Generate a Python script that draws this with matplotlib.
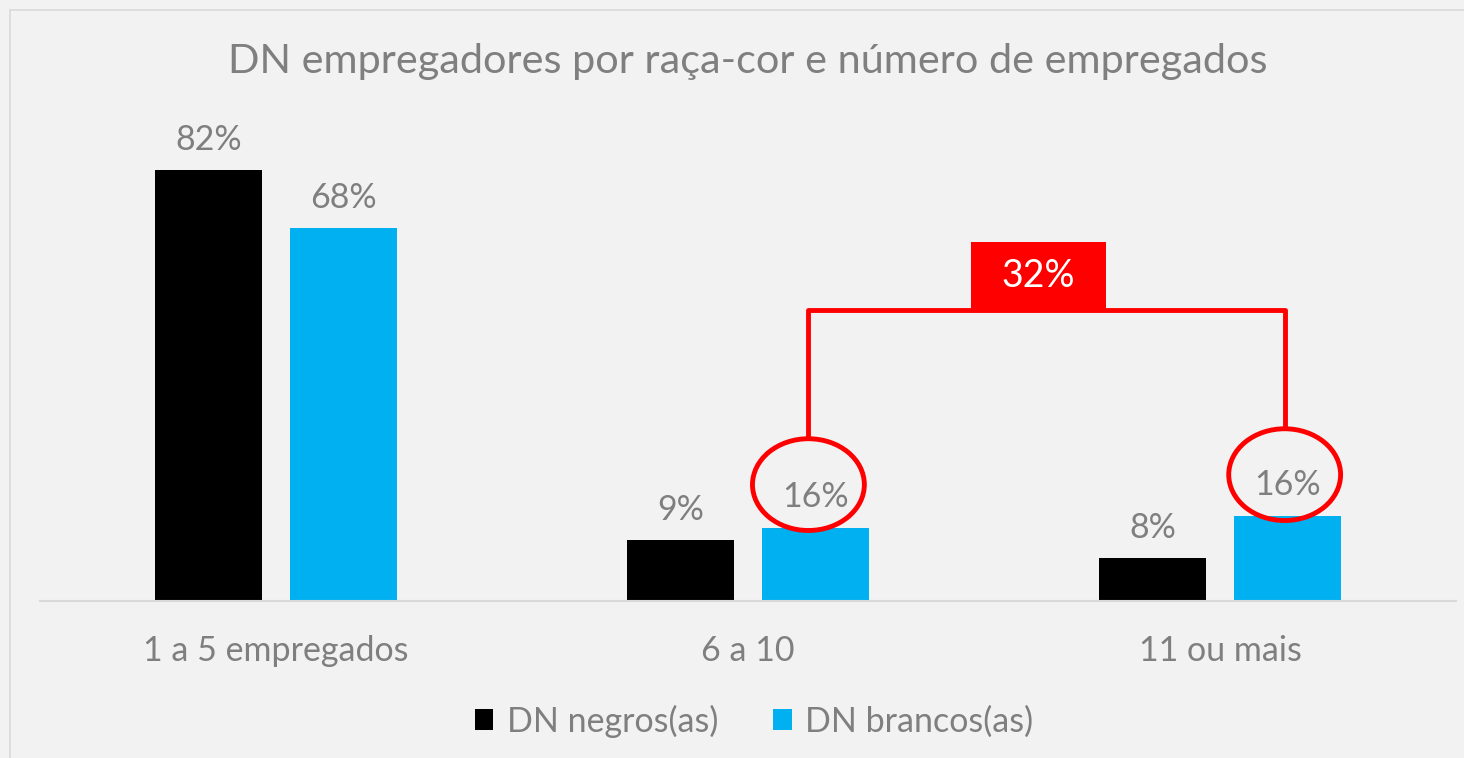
import matplotlib
matplotlib.use('Agg')
import matplotlib.pyplot as plt
from matplotlib.patches import Ellipse, Rectangle
import numpy as np

# dados
categorias = ['1 a 5 empregados', '6 a 10', '11 ou mais']
series = ['DN negros(as)', 'DN brancos(as)']
negros = [82, 11.6, 8.1]
brancos = [71, 13.9, 16.2]
rot_negros = ['82%', '9%', '8%']
rot_brancos = ['68%', '16%', '16%']
destaque = '32%'
titulo = 'DN empregadores por raça-cor e número de empregados'

CINZA = '#7F7F7F'
AZUL = '#00B0F0'
VERMELHO = '#FF0000'
FUNDO = '#F2F2F2'
FS = 24.5

plt.rcParams['font.family'] = ['Lato', 'DejaVu Sans']

W, H = 1464, 758
fig = plt.figure(figsize=(W / 100, H / 100), dpi=100)
fig.patch.set_facecolor(FUNDO)
fig.patches.append(Rectangle((10 / W, -0.1), 1.2, (H - 10) / H + 0.1, transform=fig.transFigure,
                             fill=False, edgecolor='#D9D9D9', linewidth=1.2))

ax = fig.add_axes([40 / W, (H - 600.5) / H, 1416 / W, 524.4 / H])
ax.set_facecolor(FUNDO)

x = np.arange(len(categorias))
bw = 0.2246
off = 0.143
ax.bar(x - off, negros, bw, color='black', label=series[0])
ax.bar(x + off, brancos, bw, color=AZUL, label=series[1])

for i in range(len(categorias)):
    ax.annotate(rot_negros[i], (x[i] - off, negros[i]), xytext=(0, 14.5), textcoords='offset points',
                ha='center', va='baseline', fontsize=FS, color=CINZA)
    ax.annotate(rot_brancos[i], (x[i] + off, brancos[i]), xytext=(0, 14.5), textcoords='offset points',
                ha='center', va='baseline', fontsize=FS, color=CINZA)

ax.set_xlim(-0.5, 2.5)
ax.set_ylim(0, 100)
for s in ['top', 'right', 'left']:
    ax.spines[s].set_visible(False)
ax.spines['bottom'].set_color('#D9D9D9')
ax.spines['bottom'].set_linewidth(1.5)
ax.set_yticks([])
ax.set_xticks(x)
ax.set_xticklabels(categorias, fontsize=FS, color=CINZA)
ax.tick_params(axis='x', length=0, pad=25)

# destaque: circulos + chave
lw = 3.5
centros = [(x[1] + off - 0.015, brancos[1] + 8.2), (x[2] + off - 0.006, brancos[2] + 7.8)]
for cx, cy in centros:
    ax.add_patch(Ellipse((cx, cy), 0.237, 17.5, fill=False, edgecolor=VERMELHO, linewidth=lw, zorder=5))
topo = 55.4
ax.plot([centros[0][0], centros[0][0], centros[1][0], centros[1][0]],
        [centros[0][1] + 8.75, topo, topo, centros[1][1] + 8.75],
        color=VERMELHO, linewidth=lw, solid_capstyle='butt', zorder=5)
mx = (centros[0][0] + centros[1][0]) / 2 - 0.017
ax.add_patch(Rectangle((mx - 0.143, topo), 0.286, 13.0, facecolor=VERMELHO, edgecolor='none', zorder=6))
ax.text(mx, topo + 6.5, destaque, ha='center', va='center', fontsize=27, color='white', zorder=7)

fig.text(748 / W, (H - 73) / H, titulo, ha='center', va='baseline', fontsize=29.8, color=CINZA)

ax.legend(loc='center', bbox_to_anchor=(754 / W, (H - 721) / H), bbox_transform=fig.transFigure,
          ncol=2, frameon=False, fontsize=FS, handlelength=0.55, handleheight=0.55,
          handletextpad=0.4, columnspacing=1.6, labelcolor=CINZA)

fig.savefig('out.png', dpi=100, facecolor=FUNDO)
